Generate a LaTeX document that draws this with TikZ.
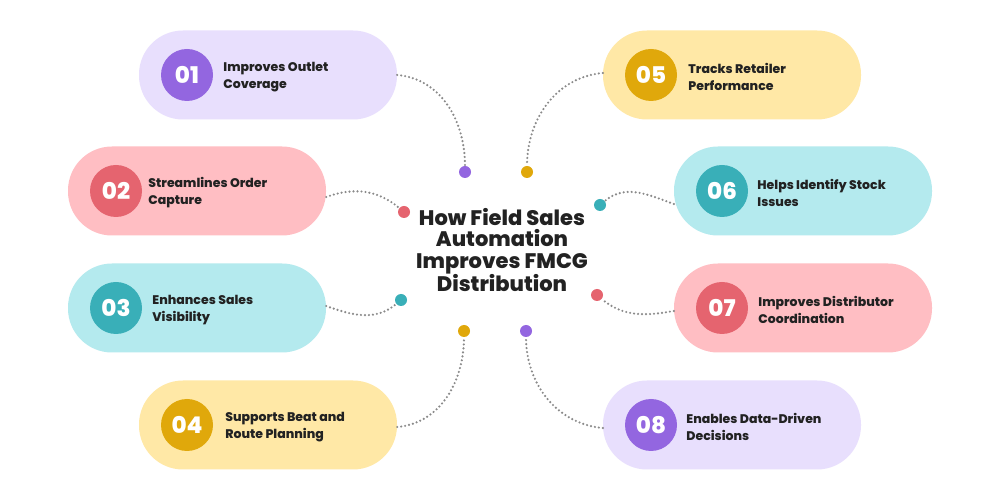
\documentclass[tikz,border=0pt]{standalone}
\usepackage{fontspec}
\setmainfont{Poppins}[BoldFont={Poppins ExtraBold}]
\usetikzlibrary{positioning}
\definecolor{lavlight}{HTML}{E8DFFD}
\definecolor{lavdark}{HTML}{9366E0}
\definecolor{pinklight}{HTML}{FFBEC3}
\definecolor{pinkdark}{HTML}{E5646F}
\definecolor{teallight}{HTML}{B4EAEE}
\definecolor{tealdark}{HTML}{39AFB8}
\definecolor{sunlight}{HTML}{FFE8A6}
\definecolor{sundark}{HTML}{E0A80B}
\definecolor{linkgray}{HTML}{8A8A8A}
\definecolor{ink}{HTML}{222222}
\begin{document}
\begin{tikzpicture}[x=1pt,y=1pt,
    pill/.style={rectangle, rounded corners=44pt, minimum width=258pt, minimum height=89pt, inner sep=0pt},
    badge/.style={circle, minimum size=52pt, inner sep=0pt, text=white, font=\fontsize{23}{23}\selectfont\bfseries},
    txt/.style={align=left, inner sep=0pt, text=ink, font=\fontsize{12.5}{17}\selectfont\bfseries},
    knob/.style={circle, minimum size=12pt, inner sep=0pt},
    link/.style={draw=linkgray, line width=2.4pt, line cap=round, dash pattern=on 0pt off 4pt}]
    \useasboundingbox[fill=white] (0,0) rectangle (1000,500);
    % left column
    \node[pill, fill=lavlight] (p1) at (268,425) {};
    \node[pill, fill=pinklight] (p2) at (197,309) {};
    \node[pill, fill=teallight] (p3) at (197,192) {};
    \node[pill, fill=sunlight] (p4) at (268,75) {};
    % right column
    \node[pill, fill=sunlight] (p5) at (732,425) {};
    \node[pill, fill=teallight] (p6) at (803,309) {};
    \node[pill, fill=pinklight] (p7) at (803,192) {};
    \node[pill, fill=lavlight] (p8) at (732,75) {};
    % numbers
    \node[badge, fill=lavdark, right=22pt of p1.west] (b1) {01};
    \node[badge, fill=pinkdark, right=22pt of p2.west] (b2) {02};
    \node[badge, fill=tealdark, right=22pt of p3.west] (b3) {03};
    \node[badge, fill=sundark, right=22pt of p4.west] (b4) {04};
    \node[badge, fill=sundark, right=22pt of p5.west] (b5) {05};
    \node[badge, fill=tealdark, right=22pt of p6.west] (b6) {06};
    \node[badge, fill=pinkdark, right=22pt of p7.west] (b7) {07};
    \node[badge, fill=lavdark, right=22pt of p8.west] (b8) {08};
    % texts
    \node[txt, right=10pt of b1, yshift=-2pt] (t1) {Improves Outlet\\Coverage};
    \node[txt, right=6pt of b2, yshift=-2pt] (t2) {Streamlines Order\\Capture};
    \node[txt, right=10pt of b3, yshift=-2pt] (t3) {Enhances Sales\\Visibility};
    \node[txt, right=12pt of b4, yshift=-2pt] (t4) {Supports Beat and\\Route Planning};
    \node[txt, right=11pt of b5, yshift=-2pt] (t5) {Tracks Retailer\\Performance};
    \node[txt, right=9pt of b6, yshift=-2pt] (t6) {Helps Identify Stock\\Issues};
    \node[txt, right=10pt of b7, yshift=-2pt] (t7) {Improves Distributor\\Coordination};
    \node[txt, right=9pt of b8, yshift=-2pt] (t8) {Enables Data-Driven\\Decisions};
    % centre
    \node[align=center, text=ink, font=\fontsize{21}{21.5}\selectfont\bfseries] (hub) at (502,250)
      {How Field Sales\\Automation\\Improves FMCG\\Distribution};
    % end dots
    \node[knob, fill=lavdark] (d1) at (465,328) {};
    \node[knob, fill=sundark] (d5) at (527,328) {};
    \node[knob, fill=pinkdark] (d2) at (404,288) {};
    \node[knob, fill=tealdark] (d6) at (600,295) {};
    \node[knob, fill=tealdark] (d3) at (401,200) {};
    \node[knob, fill=pinkdark] (d7) at (597,205) {};
    \node[knob, fill=sundark] (d4) at (464,169) {};
    \node[knob, fill=lavdark] (d8) at (526,169) {};
    \path[link]
      (p1.east) to[out=-5, in=90] (d1)
      ([yshift=-6pt]p2.east) to[out=20, in=140] (d2)
      ([yshift=2pt]p3.east) to[out=-20, in=-140] (d3)
      ([yshift=-2pt]p4.east) to[out=5, in=-90] (d4)
      ([yshift=2pt]p5.west) to[out=185, in=90] (d5)
      ([yshift=-13pt]p6.west) to[out=160, in=40] (d6)
      ([yshift=-3pt]p7.west) to[out=190, in=-40] (d7)
      ([yshift=-3pt]p8.west) to[out=175, in=-90] (d8);
\end{tikzpicture}
\end{document}
